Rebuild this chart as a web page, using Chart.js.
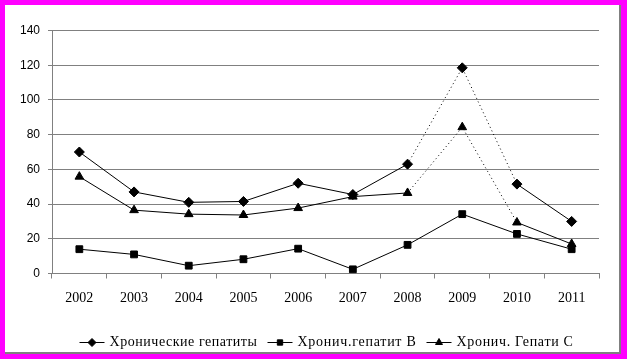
<!DOCTYPE html>
<html>
<head>
<meta charset="utf-8">
<script src="https://cdn.jsdelivr.net/npm/chart.js@4/dist/chart.umd.min.js"></script>
<style>
  html, body { margin: 0; padding: 0; }
  body { width: 627px; height: 359px; background: #ff00ff; position: relative; overflow: hidden; }
  #frame { position: absolute; left: 5px; top: 5px; width: 614px; height: 347px; background: #fff;
           border-right: 2px solid #808080; border-bottom: 2px solid #808080; }
  #c { display: block; }
</style>
</head>
<body>
<div id="frame"><canvas id="c" width="614" height="347"></canvas></div>
<script>
const categories = ['2002','2003','2004','2005','2006','2007','2008','2009','2010','2011'];
const seriesNames = ['Хронические гепатиты', 'Хронич.гепатит В', 'Хронич. Гепати С'];
const chronicHepatitis = [70, 47, 41, 41.5, 52, 45.5, 63, 118.5, 51.5, 30];
const chronicHepatitisB = [14, 11, 4.5, 8.2, 14.3, 2.4, 16.5, 34.2, 22.8, 14];
const chronicHepatitisC = [55.8, 36.5, 34.2, 33.7, 37.7, 44.3, 46.4, 84.3, 29.4, 17];
const yTicks = [0, 20, 40, 60, 80, 100, 120, 140];

const dottedIdx = [6, 7];
const dotted = ctx => dottedIdx.includes(ctx.p0DataIndex) ? [1, 3] : undefined;

const pointStyles = ['rectRot', 'rect', 'triangle'];
const pointRadii = [5, 4.8, 5];
const dashedSeries = [true, false, true];

const legendPlugin = {
  id: 'customLegend',
  afterDraw(chart) {
    const ctx = chart.ctx;
    const targets = [148, 119, 117];
    const y = 337;
    ctx.save();
    ctx.font = '14px "Liberation Serif", "Times New Roman", serif';
    ctx.textBaseline = 'middle';
    ctx.fillStyle = '#000';
    const lineLen = 25, gap1 = 5, gap2 = 10;
    let total = 0;
    targets.forEach((w, i) => { total += lineLen + gap1 + w + (i < targets.length - 1 ? gap2 : 0); });
    let x = 321.5 - total / 2;
    chart.data.datasets.forEach((ds, i) => {
      ctx.strokeStyle = '#000';
      ctx.lineWidth = 1;
      ctx.setLineDash([]);
      ctx.beginPath();
      ctx.moveTo(x, y + 0.5);
      ctx.lineTo(x + lineLen, y + 0.5);
      ctx.stroke();
      Chart.helpers.drawPoint(ctx, { pointStyle: pointStyles[i], radius: pointRadii[i] - 1, borderWidth: 1, rotation: 0 }, x + lineLen / 2, y + 0.5);
      ctx.fillStyle = '#000';
      const name = seriesNames[i];
      ctx.letterSpacing = '0px';
      const nat = ctx.measureText(name).width;
      const ls = (targets[i] - nat) / name.length;
      ctx.letterSpacing = ls.toFixed(2) + 'px';
      ctx.fillText(name, x + lineLen + gap1, y);
      x += lineLen + gap1 + targets[i] + gap2;
    });
    ctx.restore();
  }
};

function mkDataset(label, data, i) {
  const ds = {
    label, data,
    borderColor: '#000', backgroundColor: '#000', borderWidth: 1,
    pointStyle: pointStyles[i], pointRadius: pointRadii[i], pointHoverRadius: pointRadii[i],
    pointBackgroundColor: '#000', pointBorderColor: '#000', pointBorderWidth: 1,
    tension: 0, fill: false
  };
  if (dashedSeries[i]) ds.segment = { borderDash: dotted };
  return ds;
}

new Chart(document.getElementById('c'), {
  type: 'line',
  data: {
    labels: categories,
    datasets: [
      mkDataset(seriesNames[0], chronicHepatitis, 0),
      mkDataset(seriesNames[1], chronicHepatitisB, 1),
      mkDataset(seriesNames[2], chronicHepatitisC, 2)
    ]
  },
  options: {
    responsive: false,
    animation: false,
    devicePixelRatio: 1,
    layout: { padding: { top: 25.5, right: 20, left: 0, bottom: 0 } },
    plugins: { legend: { display: false }, tooltip: { enabled: false } },
    scales: {
      x: {
        offset: true,
        grid: { offset: true, drawOnChartArea: false, color: '#808080', tickLength: 5 },
        border: { color: '#808080' },
        ticks: { color: '#000', font: { family: '"Liberation Serif", "Times New Roman", serif', size: 14 }, padding: 11, maxRotation: 0 },
        afterFit(scale) { scale.height = 78.5; }
      },
      y: {
        min: 0, max: 140,
        afterBuildTicks(scale) { scale.ticks = yTicks.map(v => ({ value: v })); },
        grid: { color: '#808080', tickLength: 4 },
        border: { color: '#808080' },
        ticks: { color: '#000', font: { family: '"Liberation Sans", Arial, sans-serif', size: 12 }, padding: 8 },
        afterFit(scale) { scale.width = 47; }
      }
    }
  },
  plugins: [legendPlugin]
});
</script>
</body>
</html>
